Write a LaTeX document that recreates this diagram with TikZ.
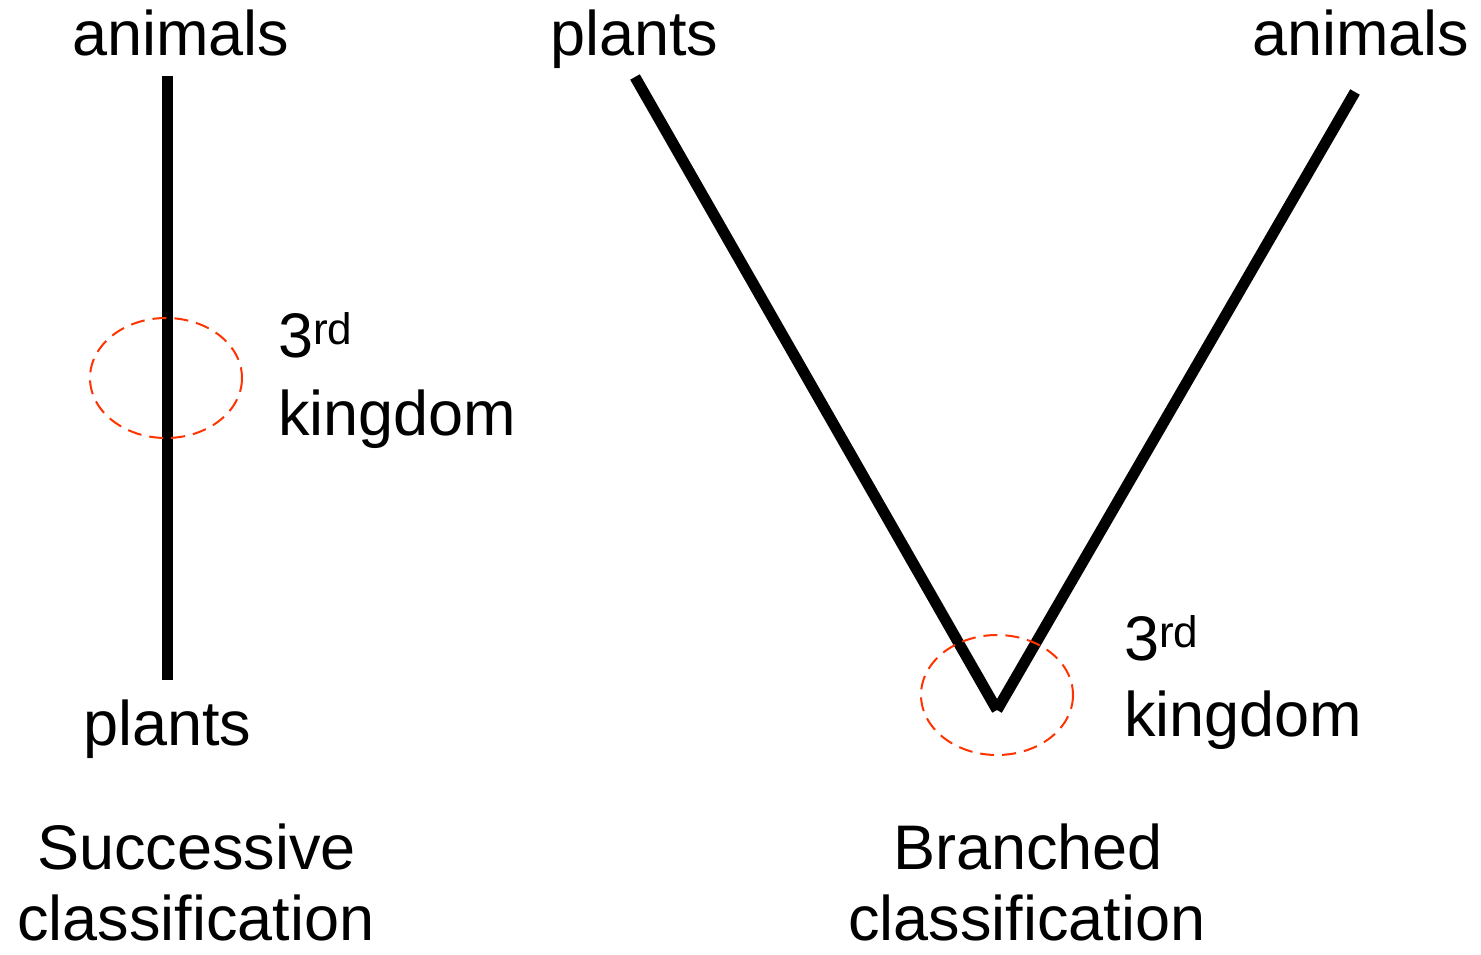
\documentclass[tikz,border=0pt]{standalone}
\usepackage{fontspec}
\setmainfont{Liberation Sans}
\begin{document}
\begin{tikzpicture}[x=1pt,y=-1pt,
  lbl/.style={anchor=base west,inner sep=0pt,font=\fontsize{63}{76}\selectfont},
  branch/.style={line width=11pt,black},
  halo/.style={draw={rgb,255:red,255;green,51;blue,0},line width=2pt,dash pattern=on 14pt off 8pt}]
\useasboundingbox (0,0) rectangle (1481,954);
% left: successive
\node[lbl] (anL) at (72,55) {animals};
\node[lbl] (plL) at (83,745) {plants};
\node[lbl] (r1) at (278,357) {3\raisebox{3pt}{\textsuperscript{rd}}};
\node[lbl] (k1) at (278,435) {kingdom};
\node[lbl] (s1) at (37,869) {Successive};
\node[lbl] (c1) at (17,940) {classification};
\coordinate (vt) at (167,76);
\coordinate (vb) at (167,680);
\draw[branch] (vt) -- (vb);
\draw[halo] (166,378) ellipse [x radius=76, y radius=60];
% right: branched
\node[lbl] (plR) at (550,55) {plants};
\node[lbl] (anR) at (1252,55) {animals};
\node[lbl] (r2) at (1124,660) {3\raisebox{3pt}{\textsuperscript{rd}}};
\node[lbl] (k2) at (1124,736) {kingdom};
\node[lbl] (b2) at (893,869) {Branched};
\node[lbl] (c2) at (848,940) {classification};
\coordinate (pl) at (635,77);
\coordinate (an) at (1355,92);
\coordinate (root) at (997,710);
\draw[branch] (pl) -- (root);
\draw[branch] (an) -- (root);
\draw[halo] (997,695) ellipse [x radius=76, y radius=60];
\end{tikzpicture}
\end{document}
